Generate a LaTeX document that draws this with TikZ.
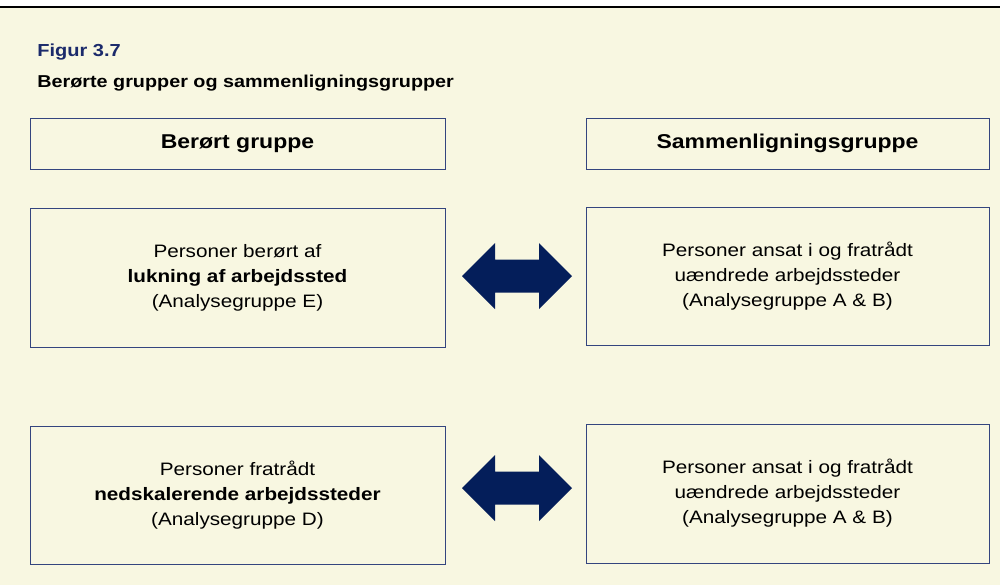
\documentclass[tikz,border=0pt]{standalone}
\usepackage{fontspec}
\setmainfont[FakeStretch=1.15]{Liberation Sans}
\usetikzlibrary{calc}
\definecolor{bgc}{HTML}{F8F7E1}
\definecolor{framec}{HTML}{34457E}
\definecolor{arrowc}{HTML}{041E5A}
\definecolor{titlec}{HTML}{1B2A6B}
\tikzset{
  hdrbox/.style={draw=framec, line width=0.5pt, rectangle, inner sep=0pt, align=center,
    font=\fontsize{10}{12}\selectfont\bfseries},
  bodybox/.style={draw=framec, line width=0.5pt, rectangle, inner sep=0pt, align=center,
    font=\fontsize{9}{12.5}\selectfont},
  fatarrow/.style={fill=arrowc}
}
\newcommand{\dblarrow}[1]{%
  \fill[fatarrow] #1 ++(-55,0) -- ++(33,-33) -- ++(0,16.5) -- ++(44,0) -- ++(0,-16.5)
    -- ++(33,33) -- ++(-33,33) -- ++(0,-16.5) -- ++(-44,0) -- ++(0,16.5) -- cycle;}
\begin{document}
\begin{tikzpicture}[x=0.5pt,y=-0.5pt]
\useasboundingbox (0,0) rectangle (1000,585);
\fill[white] (0,0) rectangle (1000,7);
\fill[bgc] (0,7) rectangle (1000,585);
\draw[black, line width=0.8pt] (0,7) -- (1000,7);

\node[anchor=base west, inner sep=0pt, text=titlec, font=\fontsize{8.7}{10}\selectfont\bfseries] (fig) at (37,56) {Figur 3.7};
\node[anchor=base west, inner sep=0pt, font=\fontsize{8.6}{10}\selectfont\bfseries] (sub) at (37,87) {Berørte grupper og sammenligningsgrupper};

\node[hdrbox, minimum width=207.5pt, minimum height=25.5pt] (hl) at (237.5,143.5) {Berørt gruppe};
\node[hdrbox, minimum width=201.5pt, minimum height=25.5pt] (hr) at (787.5,143.5) {Sammenligningsgruppe};

\node[bodybox, minimum width=207.5pt, minimum height=69.5pt] (l1) at (237.5,277.5)
  {Personer berørt af\\\textbf{lukning af arbejdssted}\\(Analysegruppe E)};
\node[bodybox, minimum width=201.5pt, minimum height=69pt] (r1) at (787.5,276)
  {Personer ansat i og fratrådt\\uændrede arbejdssteder\\(Analysegruppe A \& B)};

\node[bodybox, minimum width=207.5pt, minimum height=69pt] (l2) at (237.5,495)
  {Personer fratrådt\\\textbf{nedskalerende arbejdssteder}\\(Analysegruppe D)};
\node[bodybox, minimum width=201.5pt, minimum height=69.5pt] (r2) at (787.5,493.5)
  {Personer ansat i og fratrådt\\uændrede arbejdssteder\\(Analysegruppe A \& B)};

\dblarrow{($(l1.east)!0.5!(r1.west)+(1.5,-0.75)$)}
\dblarrow{($(l2.east)!0.5!(r2.west)+(1.5,-6.25)$)}
\end{tikzpicture}
\end{document}
